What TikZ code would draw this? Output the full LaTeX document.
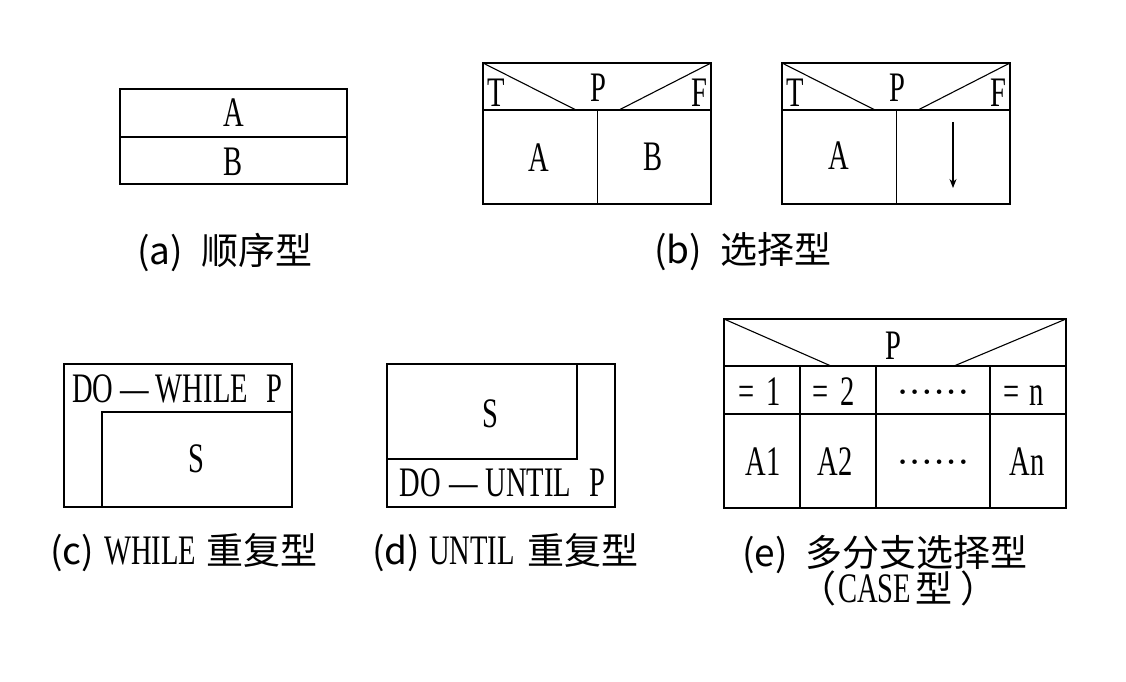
\documentclass[tikz,border=0pt]{standalone}
\usepackage{fontspec}
\setmainfont{Liberation Serif}
\newfontfamily\lat[FakeStretch=0.68]{Liberation Serif}
\newfontfamily\cjk{Noto Sans CJK SC}
\usetikzlibrary{arrows.meta}
\newcommand\myLat[1]{{\lat\fontsize{42}{46}\selectfont #1}}
\newcommand\myDots{{\fontsize{19}{19}\selectfont •\hspace{5.5pt}•\hspace{5.5pt}•\hspace{5.5pt}•\hspace{5.5pt}•\hspace{5.5pt}•}}
\begin{document}
\begin{tikzpicture}[x=1pt,y=-1pt,
  box/.style={draw, line width=1.5pt},
  thinline/.style={draw, line width=1.1pt},
  lt/.style={font=\lat\fontsize{42}{46}\selectfont, inner sep=0pt, anchor=base},
  lab/.style={font=\cjk\fontsize{37}{42}\selectfont, inner sep=0pt, anchor=west},
  dotrow/.style={inner sep=0pt, anchor=base}]
\useasboundingbox (0,0) rectangle (1126,682);

% (a) sequence
\draw[box] (120,89) rectangle (347,184);
\draw[box] (120,137) -- (347,137);
\node[lt] (aA) at (233.5,126.7) {A};
\node[lt] (aB) at (233.5,175) {B};
\node[lab] (la) at (137,252) {(a)\hspace{18pt}顺序型};

% (b) selection, box 1
\draw[box] (483,63) rectangle (711,204);
\draw[box] (483,110) -- (711,110);
\draw[box] (597.5,110) -- (597.5,204);
\draw[thinline] (483,63) -- (576,110);
\draw[thinline] (619,110) -- (711,63);
\node[lt] (b1T) at (496,106.7) {T};
\node[lt] (b1P) at (598,101.7) {P};
\node[lt] (b1F) at (699,106.7) {F};
\node[lt] (b1A) at (539,171) {A};
\node[lt] (b1B) at (653,170) {B};

% (b) selection, box 2
\draw[box] (782,63) rectangle (1010,204);
\draw[box] (782,110) -- (1010,110);
\draw[box] (896.5,110) -- (896.5,204);
\draw[thinline] (782,63) -- (875,110);
\draw[thinline] (918,110) -- (1010,63);
\node[lt] (b2T) at (795,106.7) {T};
\node[lt] (b2P) at (897,101.7) {P};
\node[lt] (b2F) at (998,106.7) {F};
\node[lt] (b2A) at (839,169) {A};
\coordinate (arrS) at (953,122);
\coordinate (arrE) at (953,188);
\draw[line width=1.2pt, -{Stealth[length=9pt,width=7pt]}] (arrS) -- (arrE);
\node[lab] (lb) at (654,252) {(b)\hspace{18pt}选择型};

% (c) WHILE loop
\draw[box] (64,364) rectangle (292,507);
\draw[box] (102,507) -- (102,412) -- (292,412);
\node[lt] (cW) at (177.5,402.3) {DO\hspace{7pt}—\hspace{7pt}WHILE\hspace{19pt}P};
\node[lt] (cS) at (196,472.7) {S};
\node[lab] (lc) at (50,553) {(c)\hspace{10pt}\myLat{WHILE}\hspace{10pt}重复型};

% (d) UNTIL loop
\draw[box] (387,364) rectangle (615,507);
\draw[box] (387,459) -- (577,459) -- (577,364);
\node[lt] (dS) at (490,427.3) {S};
\node[lt] (dU) at (502.5,496.7) {DO\hspace{8pt}—\hspace{8pt}UNTIL\hspace{18pt}P};
\node[lab] (ld) at (372,553) {(d)\hspace{9pt}\myLat{UNTIL}\hspace{13pt}重复型};

% (e) CASE
\draw[box] (724,319) rectangle (1066,508);
\draw[box] (724,366) -- (1066,366);
\draw[box] (724,414) -- (1066,414);
\draw[box] (800,366) -- (800,508);
\draw[box] (876,366) -- (876,508);
\draw[box] (990,366) -- (990,508);
\draw[thinline] (724,319) -- (831,366);
\draw[thinline] (954,366) -- (1066,319);
\node[lt] (eP) at (893,359.3) {P};
\node[lt] (e1) at (760,405) {=\hspace{12pt}1};
\node[lt] (e2) at (834,405) {=\hspace{12pt}2};
\node[dotrow] (ed1) at (933,398.5) {\myDots};
\node[lt] (en) at (1024,405) {=\hspace{10pt}n};
\node[lt] (eA1) at (763,475) {A1};
\node[lt] (eA2) at (835,475) {A2};
\node[dotrow] (ed2) at (933,468.5) {\myDots};
\node[lt] (eAn) at (1027,475) {An};
\node[lab] (le1) at (742,555) {(e)\hspace{18pt}多分支选择型};
\node[font=\cjk\fontsize{37}{42}\selectfont, inner sep=0pt] (le2) at (898,588) {（\hspace{2pt}\myLat{CASE}\hspace{4pt}型\hspace{8pt}）};
\end{tikzpicture}
\end{document}
